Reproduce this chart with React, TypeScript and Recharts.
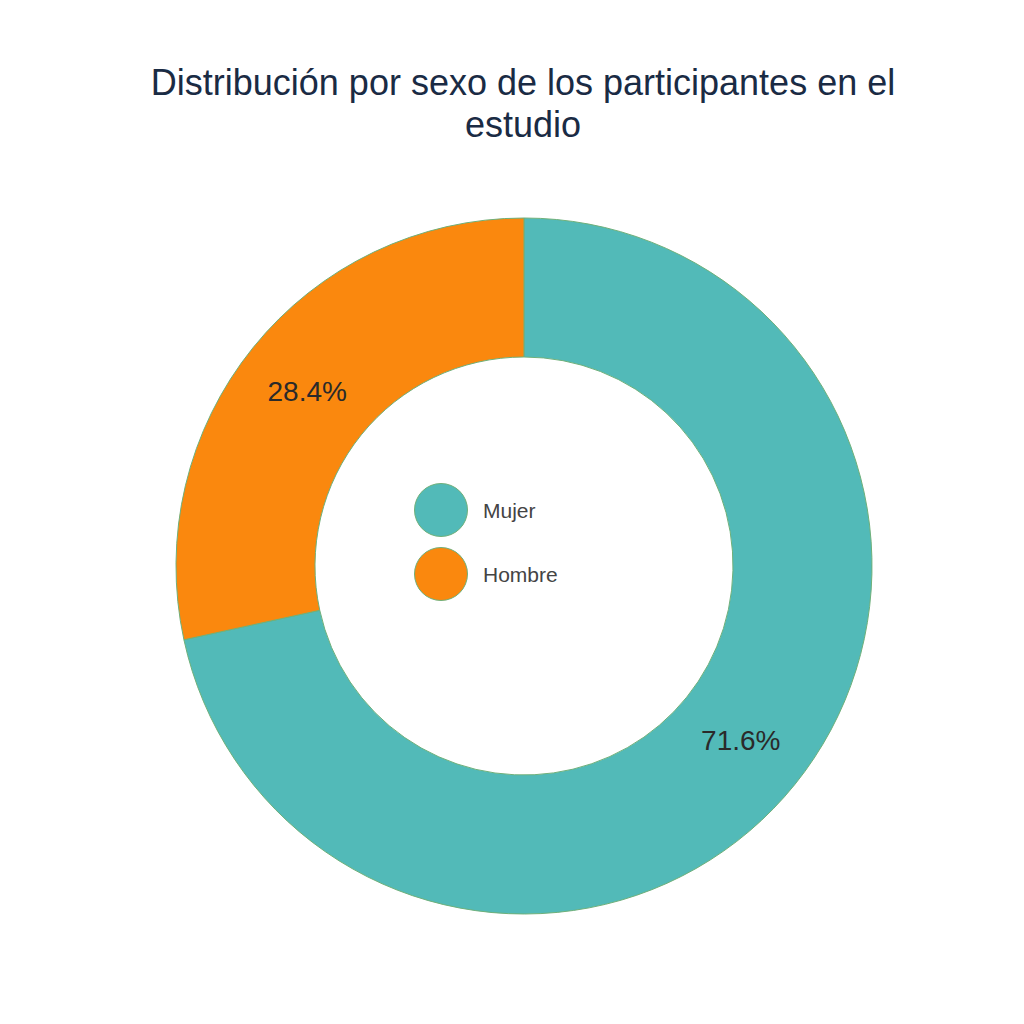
import React from "react";
import { PieChart, Pie, Cell, Legend } from "recharts";

const categories = ["Mujer", "Hombre"];
const shares = [71.6, 28.4];
const colors = ["#52bab8", "#fa880e"];
const titleLines = ["Distribución por sexo de los participantes en el", "estudio"];

const data = categories.map((name, i) => ({ name, value: shares[i] }));

const RAD = Math.PI / 180;

function renderLabel(props: any) {
  const { cx, cy, midAngle, innerRadius, outerRadius, percent } = props;
  const r = (innerRadius + outerRadius) / 2;
  const x = cx + r * Math.cos(-midAngle * RAD);
  const y = cy + r * Math.sin(-midAngle * RAD);
  return (
    <text
      x={x}
      y={y}
      textAnchor="middle"
      dominantBaseline="central"
      fill="#2a2a2a"
      fontSize={28}
      fontFamily="Liberation Sans, Arial, sans-serif"
    >
      {(percent * 100).toFixed(1)}%
    </text>
  );
}

function LegendBox() {
  return (
    <svg width={160} height={130} style={{ overflow: "visible" }}>
      {categories.map((name, i) => (
        <g key={name}>
          <circle cx={27} cy={27 + i * 64} r={26.5} fill={colors[i]} stroke="#6fb07a" strokeWidth={1} />
          <text
            x={69}
            y={27 + i * 64}
            dominantBaseline="central"
            fontSize={21}
            fill="#444"
            fontFamily="Liberation Sans, Arial, sans-serif"
          >
            {name}
          </text>
        </g>
      ))}
    </svg>
  );
}

export default function App() {
  return (
    <div style={{ position: "absolute", left: 0, top: 0, width: 1024, height: 1024, background: "#fff" }}>
      <svg width={1024} height={160} style={{ position: "absolute", left: 0, top: 0 }}>
        {titleLines.map((line, i) => (
          <text
            key={i}
            x={523}
            y={95 + i * 42}
            textAnchor="middle"
            fontSize={36}
            fill="#1a2b44"
            fontFamily="Liberation Sans, Arial, sans-serif"
          >
            {line}
          </text>
        ))}
      </svg>
      <PieChart
        width={1024}
        height={1024}
        margin={{ top: 0, right: 0, bottom: 0, left: 0 }}
        style={{ position: "absolute", left: 0, top: 0 }}
      >
        <Pie
          data={data}
          dataKey="value"
          nameKey="name"
          cx={524}
          cy={566}
          innerRadius={209}
          outerRadius={348}
          startAngle={90}
          endAngle={-270}
          stroke="#6fb07a"
          strokeWidth={1}
          label={renderLabel}
          labelLine={false}
          isAnimationActive={false}
        >
          {data.map((d, i) => (
            <Cell key={d.name} fill={colors[i]} />
          ))}
        </Pie>
        <Legend
          content={() => <LegendBox />}
          wrapperStyle={{ position: "absolute", left: 414, top: 483, width: 160, height: 130 }}
        />
      </PieChart>
    </div>
  );
}
